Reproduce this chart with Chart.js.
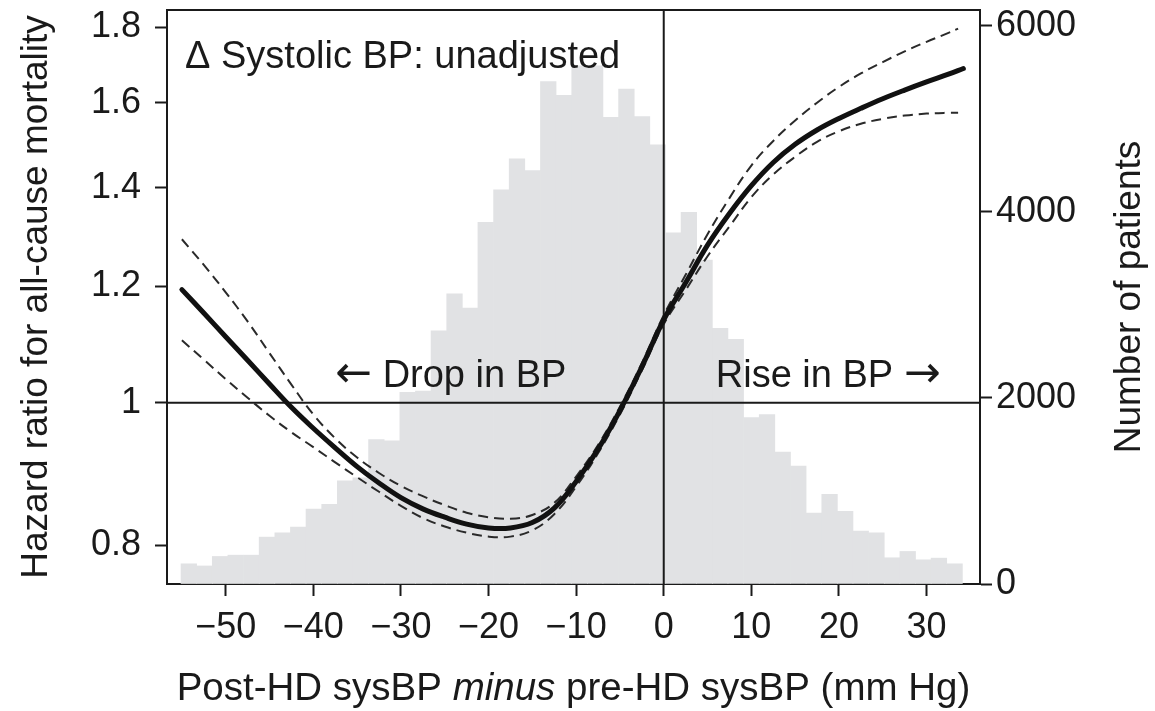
<!DOCTYPE html>
<html>
<head>
<meta charset="utf-8">
<title>Systolic BP change and mortality</title>
<script src="https://cdn.jsdelivr.net/npm/chart.js@4.4.1/dist/chart.umd.min.js"></script>
<style>
  html, body { margin: 0; padding: 0; background: #fff; }
</style>
</head>
<body>
<canvas id="bpChart" width="1155" height="711"></canvas>
<script>
// tick values
const xTickValues = [-50, -40, -30, -20, -10, 0, 10, 20, 30];
const hrTickValues = [0.8, 1, 1.2, 1.4, 1.6, 1.8];
const patientTickValues = [0, 2000, 4000, 6000];

// histogram (number of patients per bin)
const binCenters = [-54.21, -52.42, -50.64, -48.86, -47.07, -45.29, -43.50, -41.72, -39.94, -38.15,
  -36.37, -34.59, -32.80, -31.02, -29.23, -27.45, -25.67, -23.88, -22.10, -20.32,
  -18.53, -16.75, -14.96, -13.18, -11.40, -9.61, -7.83, -6.05, -4.26, -2.48,
  -0.69, 1.09, 2.87, 4.66, 6.44, 8.22, 10.01, 11.79, 13.58, 15.36,
  17.14, 18.93, 20.71, 22.49, 24.28, 26.06, 27.85, 29.63, 31.41, 33.20];
const patientCounts = [217, 194, 296, 310, 310, 504, 549, 611, 804, 856,
  1110, 1140, 1552, 1539, 2060, 2075, 2721, 3118, 2966, 3888,
  4236, 4569, 4443, 5401, 5253, 5570, 5570, 5016, 5320, 5025,
  4720, 3776, 3996, 3482, 2747, 2629, 1789, 1821, 1419, 1268,
  762, 963, 780, 568, 551, 282, 350, 260, 278, 217];

// hazard ratio spline and 95% CI
const curveX = [-55, -52.5, -50, -47.5, -45, -42.5, -40, -37.5, -35, -32.5, -30, -27.5, -25, -22.5,
  -20, -17.5, -15, -12.5, -10, -7.5, -5, -2.5, 0, 2.5, 5, 7.5, 10, 12.5, 15, 17.5, 20, 22.5,
  25, 27.5, 30, 32.5, 34.2];
const hrMain = [1.194, 1.151, 1.109, 1.069, 1.030, 0.993, 0.961, 0.932, 0.905, 0.882, 0.862, 0.847, 0.836, 0.827,
  0.822, 0.822, 0.829, 0.848, 0.884, 0.930, 0.988, 1.058, 1.139, 1.207, 1.280, 1.345, 1.405, 1.457,
  1.499, 1.533, 1.561, 1.586, 1.610, 1.632, 1.653, 1.673, 1.688];

const ciX = [-55, -52.5, -50, -47.5, -45, -42.5, -40, -37.5, -35, -32.5, -30, -27.5, -25, -22.5,
  -20, -17.5, -15, -12.5, -10, -7.5, -5, -2.5, 0, 2.5, 5, 7.5, 10, 12.5, 15, 17.5, 20, 22.5,
  25, 27.5, 30, 32.5, 33.6];
const hrUpper = [1.292, 1.241, 1.189, 1.136, 1.081, 1.029, 0.982, 0.946, 0.918, 0.896, 0.878, 0.864, 0.852, 0.842,
  0.836, 0.834, 0.839, 0.855, 0.891, 0.936, 0.994, 1.064, 1.147, 1.222, 1.302, 1.378, 1.450, 1.507,
  1.556, 1.600, 1.640, 1.675, 1.705, 1.734, 1.760, 1.785, 1.797];
const hrLower = [1.103, 1.070, 1.038, 1.008, 0.980, 0.955, 0.933, 0.911, 0.890, 0.870, 0.851, 0.835, 0.824, 0.816,
  0.811, 0.811, 0.819, 0.840, 0.877, 0.924, 0.982, 1.052, 1.131, 1.193, 1.258, 1.318, 1.380, 1.430,
  1.470, 1.505, 1.530, 1.548, 1.560, 1.568, 1.573, 1.575, 1.575];

const FONT = "'Liberation Sans', Arial, Helvetica, sans-serif";
const ARROW_FONT = "'DejaVu Sans', sans-serif";
const INK = '#1a1a1a';
const BAR_GREY = '#e1e2e4';

const toPoints = (xs, ys) => xs.map((x, i) => ({ x, y: ys[i] }));
const setTicks = values => scale => { scale.ticks = values.map(v => ({ value: v })); };

const axisGrid = {
  offset: false,
  drawOnChartArea: false,
  drawTicks: true,
  tickLength: 12,
  tickWidth: 2,
  tickColor: INK,
  color: INK,
};
const axisBorder = { display: true, width: 2, color: INK };
const tickFont = { family: FONT, size: 36 };

// draws [text, font] pieces in a row starting at x (left edge)
function drawRun(ctx, parts, x, y) {
  ctx.textAlign = 'left';
  parts.forEach(([t, f]) => {
    ctx.font = f;
    ctx.fillText(t, x, y);
    x += ctx.measureText(t).width;
  });
}
function runWidth(ctx, parts) {
  let w = 0;
  parts.forEach(([t, f]) => { ctx.font = f; w += ctx.measureText(t).width; });
  return w;
}

// reference lines at HR = 1 and x = 0, drawn just above the histogram
const overlay = {
  id: 'overlay',
  afterDatasetDraw(chart, args) {
    if (args.index !== 0) return;
    const { ctx, chartArea: a, scales } = chart;
    const x0 = scales.x.getPixelForValue(0);
    const y1 = scales.y.getPixelForValue(1);
    ctx.save();
    ctx.strokeStyle = INK;
    ctx.lineWidth = 2;
    ctx.beginPath();
    ctx.moveTo(x0, a.top);
    ctx.lineTo(x0, a.bottom);
    ctx.moveTo(a.left, y1);
    ctx.lineTo(a.right, y1);
    ctx.stroke();
    ctx.restore();
  },
  afterDraw(chart) {
    const { ctx, chartArea: a, scales } = chart;
    const sx = scales.x, sy = scales.y;
    ctx.save();
    // top edge of the frame
    ctx.strokeStyle = INK;
    ctx.lineWidth = 2;
    ctx.beginPath();
    ctx.moveTo(a.left - 1, a.top);
    ctx.lineTo(a.right + 1, a.top);
    ctx.stroke();

    ctx.fillStyle = INK;
    ctx.textBaseline = 'alphabetic';
    const txt = `38px ${FONT}`;
    const arr = `44px ${ARROW_FONT}`;
    drawRun(ctx, [['\u0394 Systolic BP: unadjusted', txt]], sx.getPixelForValue(-54.64), sy.getPixelForValue(1.69));

    const labelY = sy.getPixelForValue(1.025);
    drawRun(ctx, [['\u2190', arr], [' Drop in BP', txt]], sx.getPixelForValue(-37.5), labelY);
    const rise = [['Rise in BP ', txt], ['\u2192', arr]];
    drawRun(ctx, rise, sx.getPixelForValue(31.6) - runWidth(ctx, rise), labelY);

    // x-axis title with italic "minus"
    const title = [
      ['Post-HD sysBP ', `38.5px ${FONT}`],
      ['minus', `italic 38.5px ${FONT}`],
      [' pre-HD sysBP (mm Hg)', `38.5px ${FONT}`],
    ];
    drawRun(ctx, title, (a.left + a.right) / 2 - runWidth(ctx, title) / 2, a.bottom + 116);

    // right axis title, reading bottom to top
    ctx.font = `37px ${FONT}`;
    ctx.translate(a.right + 150, (a.top + a.bottom) / 2);
    ctx.rotate(-Math.PI / 2);
    ctx.textAlign = 'center';
    ctx.textBaseline = 'middle';
    ctx.fillText('Number of patients', 0, 0);
    ctx.restore();
  }
};

const lineStyle = {
  type: 'line',
  yAxisID: 'y',
  pointRadius: 0,
  tension: 0.4,
  fill: false,
};

new Chart(document.getElementById('bpChart'), {
  type: 'bar',
  data: {
    datasets: [
      {
        type: 'bar',
        data: toPoints(binCenters, patientCounts),
        yAxisID: 'y2',
        backgroundColor: BAR_GREY,
        borderWidth: 0,
        barPercentage: 1,
        categoryPercentage: 1,
        order: 3,
      },
      {
        ...lineStyle,
        data: toPoints(ciX, hrUpper),
        borderColor: '#2a2a2a',
        borderWidth: 2,
        borderDash: [10, 6],
        order: 2,
      },
      {
        ...lineStyle,
        data: toPoints(ciX, hrLower),
        borderColor: '#2a2a2a',
        borderWidth: 2,
        borderDash: [10, 6],
        order: 2,
      },
      {
        ...lineStyle,
        data: toPoints(curveX, hrMain),
        borderColor: '#111',
        borderWidth: 5,
        borderCapStyle: 'round',
        order: 1,
      },
    ],
  },
  options: {
    responsive: false,
    animation: false,
    devicePixelRatio: 1,
    layout: { padding: { top: 10, left: 0, right: 0, bottom: 0 } },
    plugins: {
      legend: { display: false },
      tooltip: { enabled: false },
    },
    scales: {
      x: {
        type: 'linear',
        min: -56.7,
        max: 36.1,
        offset: false,
        afterBuildTicks: setTicks(xTickValues),
        afterFit: s => { s.height = 127; s.paddingLeft = 0; s.paddingRight = 0; },
        ticks: {
          font: tickFont,
          color: INK,
          padding: 10,
          maxRotation: 0,
          autoSkip: false,
          callback: v => String(v).replace('-', '\u2212'),
        },
        grid: axisGrid,
        border: axisBorder,
      },
      y: {
        type: 'logarithmic',
        position: 'left',
        min: 0.753,
        max: 1.85,
        afterBuildTicks: setTicks(hrTickValues),
        afterFit: s => { s.width = 167; s.paddingTop = 0; s.paddingBottom = 0; },
        ticks: {
          font: tickFont,
          color: INK,
          padding: 14,
          autoSkip: false,
          callback: v => (v === 1 ? '1' : v.toFixed(1)),
        },
        title: {
          display: true,
          text: 'Hazard ratio for all-cause mortality',
          font: { family: FONT, size: 37 },
          color: INK,
          padding: { top: 15, bottom: 0 },
        },
        grid: axisGrid,
        border: axisBorder,
      },
      y2: {
        type: 'linear',
        position: 'right',
        min: 0,
        max: 6170,
        afterBuildTicks: setTicks(patientTickValues),
        afterFit: s => { s.width = 175; s.paddingTop = 0; s.paddingBottom = 0; },
        ticks: {
          font: tickFont,
          color: INK,
          padding: 4,
          autoSkip: false,
          callback: v => String(v),
        },
        grid: axisGrid,
        border: axisBorder,
      },
    },
  },
  plugins: [overlay],
});
</script>
</body>
</html>
